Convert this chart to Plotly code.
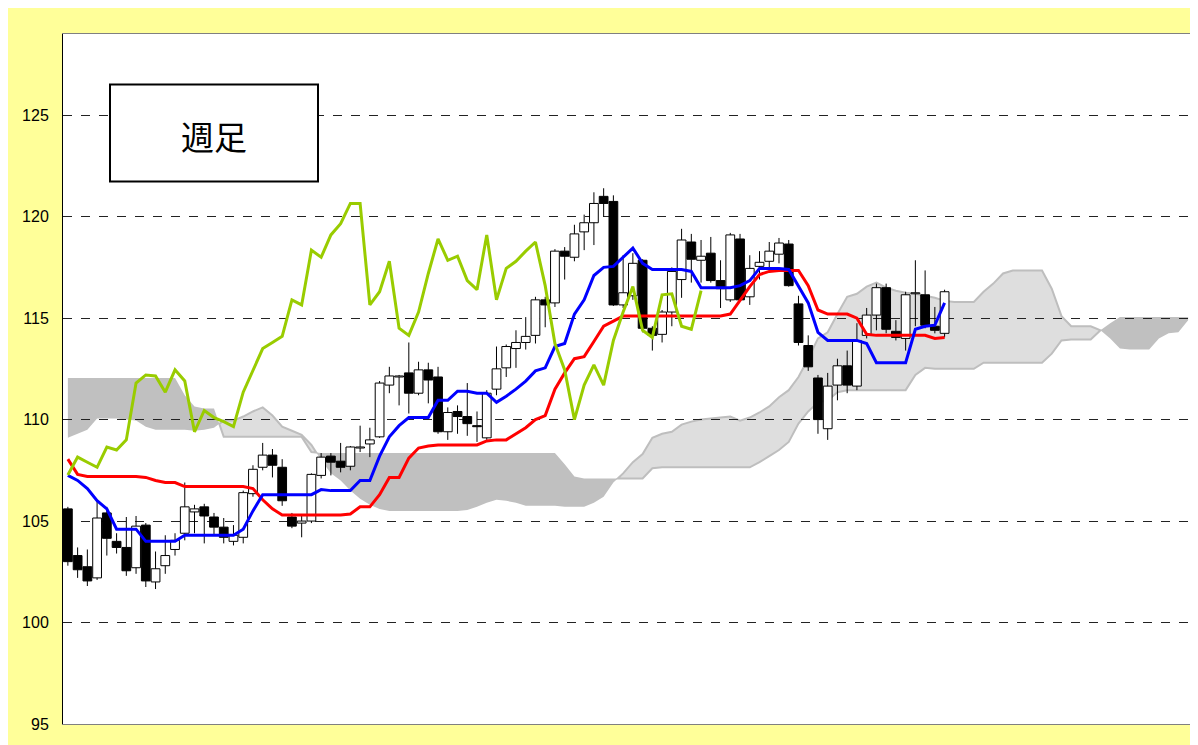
import plotly.graph_objects as go

# ---------------- data ----------------
opens = [105.6, 103.3, 102.75, 102.2, 105.4, 104.0, 103.7, 102.7, 104.8, 102.0,
         102.8, 103.6, 104.4, 105.45, 105.7, 105.2, 104.7, 104.0, 104.2, 106.35,
         107.65, 108.25, 107.65, 105.2, 104.9, 105.0, 107.25, 108.2, 107.95, 107.7,
         108.6, 108.8, 109.15, 111.7, 112.1, 112.3, 111.3, 112.45, 112.1, 109.4,
         110.4, 110.15, 109.7, 109.1, 111.5, 112.55, 113.5, 113.8, 114.15, 115.9,
         115.75, 118.3, 118.0, 119.25, 119.7, 121.0, 120.75, 115.65, 116.1, 117.85,
         114.5, 114.2, 115.3, 116.9, 118.75, 117.85, 118.2, 116.85, 115.9, 118.9,
         116.05, 117.55, 117.8, 118.15, 118.65, 115.7, 113.65, 112.05, 109.55, 111.7,
         112.65, 111.65, 114.15, 115.15, 116.5, 114.35, 114.0, 116.2, 116.15, 114.6,
         114.25]
highs = [105.7, 103.7, 103.6, 106.0, 105.7, 104.4, 105.2, 105.25, 104.9, 103.5,
         104.3, 104.4, 106.9, 105.8, 105.85, 105.4, 105.15, 104.8, 106.5, 107.75,
         108.85, 108.55, 108.05, 105.4, 105.3, 107.35, 108.35, 108.35, 108.85, 108.7,
         109.7, 109.6, 111.9, 112.6, 112.2, 113.8, 112.85, 112.8, 112.6, 110.6,
         110.7, 111.8, 110.4, 111.45, 113.6, 113.7, 114.4, 115.05, 116.05, 116.05,
         118.4, 118.5, 119.6, 120.1, 121.2, 121.4, 121.05, 118.1, 118.2, 117.9,
         114.6, 115.4, 117.5, 119.4, 119.15, 118.85, 119.0, 117.85, 119.2, 119.15,
         118.1, 118.3, 118.75, 118.95, 118.85, 116.1, 114.15, 112.2, 112.3, 113.0,
         113.4, 114.75, 115.5, 116.7, 116.7, 114.9, 116.3, 117.85, 117.35, 115.55,
         116.4]
lows = [102.8, 102.2, 101.8, 102.1, 103.3, 103.4, 102.3, 102.4, 101.75, 101.65,
        102.4, 103.3, 104.05, 104.4, 103.9, 104.3, 103.9, 103.8, 103.9, 106.2,
        107.5, 107.15, 105.75, 104.65, 104.2, 104.9, 107.1, 107.25, 107.4, 107.5,
        108.4, 108.15, 109.1, 111.3, 110.7, 110.3, 111.2, 110.8, 109.3, 109.0,
        109.3, 109.2, 108.9, 109.0, 111.2, 112.1, 112.55, 113.45, 113.75, 114.55,
        115.55, 116.9, 117.8, 118.35, 118.6, 120.0, 115.6, 115.5, 115.9, 114.3,
        113.4, 113.8, 114.6, 116.0, 116.75, 116.75, 116.75, 115.5, 115.8, 115.85,
        115.65, 116.9, 117.35, 117.7, 116.55, 113.65, 112.4, 109.3, 109.0, 110.95,
        111.3, 111.45, 114.0, 114.4, 114.25, 113.9, 113.4, 114.6, 114.5, 114.25,
        114.05]
closes = [103.0, 102.6, 102.05, 105.15, 104.15, 103.7, 102.55, 104.75, 102.05, 102.65,
          103.3, 104.05, 105.7, 105.6, 105.25, 104.7, 104.2, 104.3, 106.4, 107.55,
          108.25, 107.75, 106.0, 104.75, 105.0, 107.3, 108.15, 107.9, 107.65, 108.65,
          108.65, 109.0, 111.8, 112.15, 112.15, 111.3, 112.45, 111.95, 109.4, 110.35,
          110.15, 109.8, 109.65, 111.3, 112.5, 113.6, 113.8, 114.1, 115.9, 115.65,
          118.3, 118.05, 119.15, 119.7, 120.65, 120.65, 115.65, 116.25, 117.7, 114.5,
          114.15, 115.3, 117.3, 118.85, 117.9, 118.05, 116.85, 116.45, 119.1, 115.9,
          117.45, 117.75, 118.3, 118.7, 116.6, 113.8, 112.6, 110.0, 111.65, 112.65,
          111.7, 113.9, 115.15, 116.5, 114.45, 114.05, 116.15, 116.25, 114.65, 114.4,
          116.3]

tenkan = [107.25, 107.0, 106.6, 106.0, 105.6, 104.6, 104.6, 104.6, 104.0, 104.0,
          104.0, 104.0, 104.3, 104.3, 104.3, 104.3, 104.3, 104.3, 104.6, 105.5,
          106.3, 106.3, 106.3, 106.3, 106.3, 106.3, 106.55, 106.5, 106.5, 106.5,
          107.0, 107.0, 108.2, 109.15, 109.7, 110.1, 110.1, 110.1, 110.95, 110.95,
          111.4, 111.4, 111.3, 111.3, 110.85, 111.15, 111.5, 111.9, 112.4, 112.55,
          113.6, 113.75, 115.2, 115.9, 117.1, 117.5, 117.55, 118.0, 118.45, 117.7,
          117.4, 117.4, 117.4, 117.4, 117.3, 116.5, 116.5, 116.5, 116.5, 116.6,
          116.85, 117.45, 117.45, 117.45, 117.4, 116.6, 115.75, 114.3, 113.9, 113.9,
          113.9, 113.9, 113.75, 112.8, 112.8, 112.8, 112.8, 114.45, 114.6, 114.65,
          115.75]
kijun = [108.05, 107.3, 107.2, 107.2, 107.2, 107.2, 107.2, 107.2, 107.15, 107.0,
         106.9, 106.9, 106.7, 106.7, 106.7, 106.7, 106.7, 106.7, 106.7, 106.6,
         106.05, 105.6, 105.3, 105.3, 105.3, 105.3, 105.3, 105.3, 105.3, 105.35,
         105.7, 105.7, 106.3, 107.15, 107.15, 108.1, 108.6, 108.7, 108.75, 108.75,
         108.75, 108.75, 108.75, 108.95, 109.0, 109.0, 109.3, 109.6, 110.0, 110.2,
         111.5, 112.3, 113.0, 113.1, 113.85, 114.6, 114.85, 115.1, 115.1, 115.1,
         115.1, 115.1, 115.1, 115.1, 115.1, 115.1, 115.1, 115.1, 115.2, 115.9,
         116.55, 117.15, 117.3, 117.35, 117.35, 117.35, 116.6, 115.4, 115.2, 115.2,
         115.2, 115.0, 114.2, 114.15, 114.15, 114.15, 114.15, 114.15, 114.15, 114.0,
         114.05]
chikou = [107.27, 108.15, 107.9, 107.65, 108.65, 108.5, 109.0, 111.8, 112.2, 112.15,
          111.35, 112.45, 111.9, 109.4, 110.45, 110.1, 109.9, 109.65, 111.35, 112.45,
          113.5, 113.8, 114.1, 115.9, 115.65, 118.35, 118.0, 119.1, 119.65, 120.65,
          120.65, 115.65, 116.3, 117.8, 114.5, 114.15, 115.3, 117.2, 118.9, 117.85,
          118.05, 116.85, 116.4, 119.1, 115.9, 117.45, 117.8, 118.3, 118.75, 116.6,
          113.75, 112.45, 110.0, 111.7, 112.7, 111.7, 113.9, 115.3, 116.55, 114.4,
          114.05, 116.15, 116.2, 114.6, 114.45, 116.35]
span_a = [109.1, 109.3, 109.5, 110.05, 110.05, 110.05, 110.0, 109.95, 109.65, 109.5,
          109.5, 109.5, 109.5, 109.45, 109.5, 109.6, 109.95, 109.95, 110.15, 110.4,
          110.6, 110.2, 109.65, 109.45, 109.25, 108.75, 108.0, 107.35, 107.0, 106.5,
          106.1, 105.8, 105.6, 105.5, 105.5, 105.5, 105.5, 105.5, 105.5, 105.5,
          105.5, 105.55, 105.7, 105.9, 106.05, 106.0, 105.9, 105.75, 105.75, 105.75,
          105.75, 105.7, 105.7, 105.7, 105.9, 106.2, 106.9, 107.35, 107.9, 108.3,
          109.1, 109.3, 109.4, 109.75, 109.9, 110.0, 110.05, 110.1, 110.15, 109.95,
          110.1, 110.35, 110.65, 111.1, 111.45, 112.1, 113.0, 114.0, 114.3, 115.2,
          116.05, 116.2, 116.55, 116.75, 116.5, 116.35, 116.25, 116.2, 116.1, 116.0,
          115.85, 115.8, 115.8, 115.8, 116.3, 116.7, 117.2, 117.35, 117.35, 117.35,
          117.35, 116.45, 115.1, 114.6, 114.6, 114.6, 114.4, 114.0, 113.5, 113.45,
          113.45, 113.45, 114.0, 114.25, 114.3, 114.9]
span_b = [112.05, 112.05, 112.05, 112.05, 112.05, 112.05, 112.05, 112.05, 112.05, 112.05,
          112.05, 112.05, 111.2, 110.65, 110.55, 110.55, 109.15, 109.15, 109.15, 109.15,
          109.15, 109.15, 109.15, 109.15, 109.15, 108.4, 108.35, 108.35, 108.35, 108.35,
          108.35, 108.35, 108.35, 108.35, 108.35, 108.35, 108.35, 108.35, 108.35, 108.35,
          108.35, 108.35, 108.35, 108.35, 108.35, 108.35, 108.35, 108.35, 108.35, 108.35,
          108.35, 107.8, 107.2, 107.1, 107.1, 107.1, 107.1, 107.1, 107.1, 107.1,
          107.6, 107.65, 107.65, 107.65, 107.65, 107.65, 107.65, 107.65, 107.65, 107.65,
          107.65, 107.9, 108.2, 108.5, 108.9, 109.8, 110.4, 110.85, 110.95, 111.35,
          111.45, 111.45, 111.45, 111.45, 111.45, 111.45, 111.45, 112.2, 112.55, 112.5,
          112.5, 112.5, 112.5, 112.5, 112.8, 112.8, 112.8, 112.8, 112.8, 112.8,
          112.8, 113.25, 113.9, 113.95, 113.95, 113.95, 114.4, 114.75, 115.05, 115.05,
          115.05, 115.05, 115.05, 115.05, 115.05, 115.05]
y_ticks = [95, 100, 105, 110, 115, 120, 125]
title_text = "週足"

# ---------------- figure ----------------
n_c = len(closes)
xs_c = list(range(n_c))
xs_cloud = list(range(len(span_a)))
xs_chikou = list(range(len(chikou)))

fig = go.Figure()


# cloud: split into segments where A>=B (light) or B>A (dark); drawn as shapes under the grid
def cloud_polys(xv, a, b):
    polys = []
    cur_x, cur_a, cur_b = [xv[0]], [a[0]], [b[0]]
    cur_sign = a[0] >= b[0]
    for i in range(1, len(xv)):
        s = a[i] >= b[i]
        if s != cur_sign:
            d0 = a[i - 1] - b[i - 1]
            d1 = a[i] - b[i]
            t = d0 / (d0 - d1) if d0 != d1 else 0.5
            xc = xv[i - 1] + t * (xv[i] - xv[i - 1])
            yc = a[i - 1] + t * (a[i] - a[i - 1])
            cur_x.append(xc); cur_a.append(yc); cur_b.append(yc)
            polys.append((cur_sign, cur_x, cur_a, cur_b))
            cur_x, cur_a, cur_b = [xc], [yc], [yc]
            cur_sign = s
        cur_x.append(xv[i]); cur_a.append(a[i]); cur_b.append(b[i])
    polys.append((cur_sign, cur_x, cur_a, cur_b))
    return polys


for sign, px, pa, pb in cloud_polys(xs_cloud, span_a, span_b):
    top = pa if sign else pb
    bot = pb if sign else pa
    pts = list(zip(px, top)) + list(zip(px[::-1], bot[::-1]))
    path = "M " + " L ".join(f"{x},{y}" for x, y in pts) + " Z"
    fig.add_shape(type="path", path=path, xref="x", yref="y", layer="below",
                  fillcolor="#DEDEDE" if sign else "#C0C0C0",
                  line=dict(color="#BEBEBE" if sign else "rgba(0,0,0,0)",
                            width=2 if sign else 0))

# candles: bodies as bars, wicks as line segments outside the bodies
body_base = [min(o, c) for o, c in zip(opens, closes)]
body_h = [abs(c - o) for o, c in zip(opens, closes)]
body_col = ["white" if c >= o else "black" for o, c in zip(opens, closes)]
fig.add_trace(go.Bar(x=xs_c, y=body_h, base=body_base, width=0.9,
                     marker=dict(color=body_col, line=dict(color="black", width=1)),
                     showlegend=False, hoverinfo="skip"))
wx, wy = [], []
for i in range(n_c):
    top_b = max(opens[i], closes[i])
    bot_b = min(opens[i], closes[i])
    wx += [i, i, None, i, i, None]
    wy += [highs[i], top_b, None, bot_b, lows[i], None]
fig.add_trace(go.Scatter(x=wx, y=wy, mode="lines", line=dict(color="black", width=1),
                         showlegend=False, hoverinfo="skip"))

fig.add_trace(go.Scatter(x=xs_c, y=kijun, mode="lines",
                         line=dict(color="#FF0000", width=3), showlegend=False))
fig.add_trace(go.Scatter(x=xs_c, y=tenkan, mode="lines",
                         line=dict(color="#0000FF", width=3), showlegend=False))
fig.add_trace(go.Scatter(x=xs_chikou, y=chikou, mode="lines",
                         line=dict(color="#99CC00", width=3), showlegend=False))

# title box
L, R, T, B = 63.0, 1193.0, 33.5, 724.0
def px_x(v): return (v - L) / (R - L)
def px_y(v): return 1 - (v - T) / (B - T)
fig.add_shape(type="rect", xref="paper", yref="paper",
              x0=px_x(110), x1=px_x(318), y0=px_y(181), y1=px_y(84),
              line=dict(color="black", width=2), fillcolor="white", layer="above")
fig.add_annotation(xref="paper", yref="paper", x=px_x(214), y=px_y(136),
                   text=title_text, showarrow=False, xanchor="center", yanchor="middle",
                   font=dict(family="Noto Sans CJK JP", size=33, color="black"))

fig.update_layout(
    width=1190, height=737,
    margin=dict(l=55, r=5, t=26, b=21),
    paper_bgcolor="#FFFF99", plot_bgcolor="white",
    bargap=0.05,
    hovermode=False,
    xaxis=dict(range=[-0.5, 115.5], showgrid=False, zeroline=False,
               showticklabels=False, ticks="", showline=True, mirror=True,
               linecolor="#808080", linewidth=1),
    yaxis=dict(range=[95, 129], tickvals=y_ticks, ticktext=[str(v) for v in y_ticks],
               showgrid=True, gridcolor="#222222", griddash="dash", gridwidth=1,
               zeroline=False, showline=True, mirror=True, linecolor="black", linewidth=1,
               ticks="", ticklabelstandoff=10,
               tickfont=dict(family="Liberation Sans", size=16, color="black")),
)

fig.write_html("out.html")
